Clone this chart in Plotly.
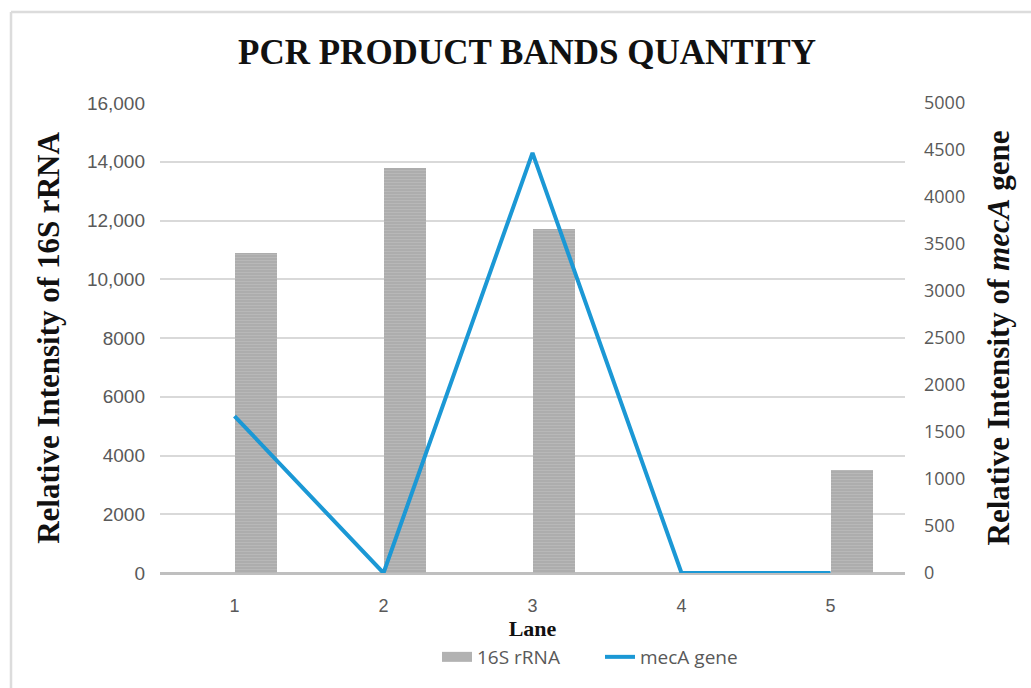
import plotly.graph_objects as go

# Lane numbers and measured band intensities
lanes = [1, 2, 3, 4, 5]
rrna_16s = [10900, 13800, 11700, 0, 3500]
meca_gene = [1670, 0, 4470, 0, 0]

left_tickvals = [0, 2000, 4000, 6000, 8000, 10000, 12000, 14000, 16000]
left_ticktext = ["0", "2000", "4000", "6000", "8000", "10,000", "12,000", "14,000", "16,000"]
right_tickvals = [0, 500, 1000, 1500, 2000, 2500, 3000, 3500, 4000, 4500, 5000]

BAR_GRAY = "#b2b2b2"
LINE_BLUE = "#1b98d5"
SERIF = "Liberation Serif, Times New Roman, serif"

W, H = 1031, 688
L, R, T, B = 160, 126, 103, 115
pw, ph = W - L - R, H - T - B


def px_x(p):
    return (p - L) / pw


def px_y(p):
    return (H - B - p) / ph


fig = go.Figure()

fig.add_trace(go.Bar(
    x=lanes, y=rrna_16s, name="16S rRNA",
    offset=0, width=0.285,
    marker=dict(
        color=BAR_GRAY,
        line=dict(width=0),
        pattern=dict(shape="-", fgcolor="#c6c6c6", bgcolor="#adadad",
                     size=3, solidity=0.3),
    ),
    showlegend=False,
    yaxis="y",
))

# legend entry for the bars, drawn as a wide gray swatch
fig.add_trace(go.Scatter(
    x=[None], y=[None], name="16S rRNA", mode="lines",
    line=dict(color=BAR_GRAY, width=14),
    yaxis="y",
))

fig.add_trace(go.Scatter(
    x=lanes, y=meca_gene, name="mecA gene", mode="lines",
    line=dict(color=LINE_BLUE, width=4),
    yaxis="y2",
))

tick_font = dict(family="Liberation Sans, Arial, sans-serif", size=19, color="#595959")
tick_font_r = dict(family="Open Sans, sans-serif", size=18, color="#595959")

fig.update_layout(
    width=W, height=H,
    margin=dict(l=L, r=R, t=T, b=B),
    paper_bgcolor="white",
    plot_bgcolor="white",
    title=dict(
        text="<b>PCR PRODUCT BANDS QUANTITY</b>",
        x=px_x(527), xref="paper", xanchor="center",
        y=1 - 52 / H, yanchor="middle",
        font=dict(family=SERIF, size=35, color="#111111"),
    ),
    xaxis=dict(
        range=[0.5, 5.5], tickvals=lanes, ticktext=[str(v) for v in lanes],
        showgrid=False, zeroline=False, showline=False, ticks="",
        tickfont=dict(family="Liberation Sans, Arial, sans-serif", size=18, color="#595959"),
        ticklabelstandoff=20,
        title=dict(text="<b>Lane</b>", standoff=0,
                   font=dict(family=SERIF, size=22, color="#111111")),
    ),
    yaxis=dict(
        range=[0, 16000], tickvals=left_tickvals, ticktext=left_ticktext,
        showgrid=True, gridcolor="#d9d9d9", gridwidth=1.5,
        zeroline=True, zerolinecolor="#bfbfbf", zerolinewidth=2.5,
        showline=False, ticks="", tickfont=tick_font, ticklabelstandoff=14,
        title=dict(text="<b>Relative Intensity of 16S rRNA</b>", standoff=18,
                   font=dict(family=SERIF, size=31, color="#111111")),
    ),
    yaxis2=dict(
        range=[0, 5000], tickvals=right_tickvals,
        overlaying="y", side="right",
        showgrid=False, zeroline=False, showline=False, ticks="",
        tickfont=tick_font_r, ticklabelstandoff=18,
        title=dict(text="<b>Relative Intensity of <i>mecA</i> gene</b>", standoff=23,
                   font=dict(family=SERIF, size=31, color="#111111")),
    ),
    legend=dict(
        orientation="h", x=px_x(600), xanchor="center",
        y=px_y(657), yanchor="middle",
        font=dict(family="Open Sans, sans-serif", size=19, color="#595959"),
        itemwidth=30, entrywidth=118, entrywidthmode="pixels",
        tracegroupgap=0,
    ),
    showlegend=True,
    bargap=0,
    shapes=[
        dict(type="line", xref="paper", yref="paper",
             x0=px_x(11), x1=px_x(W + 5), y0=px_y(12), y1=px_y(12),
             line=dict(color="#dcdcdc", width=2.5)),
        dict(type="line", xref="paper", yref="paper",
             x0=px_x(11), x1=px_x(11), y0=px_y(12), y1=px_y(H + 5),
             line=dict(color="#dcdcdc", width=2.5)),
    ],
)

fig.write_html("out.html")
